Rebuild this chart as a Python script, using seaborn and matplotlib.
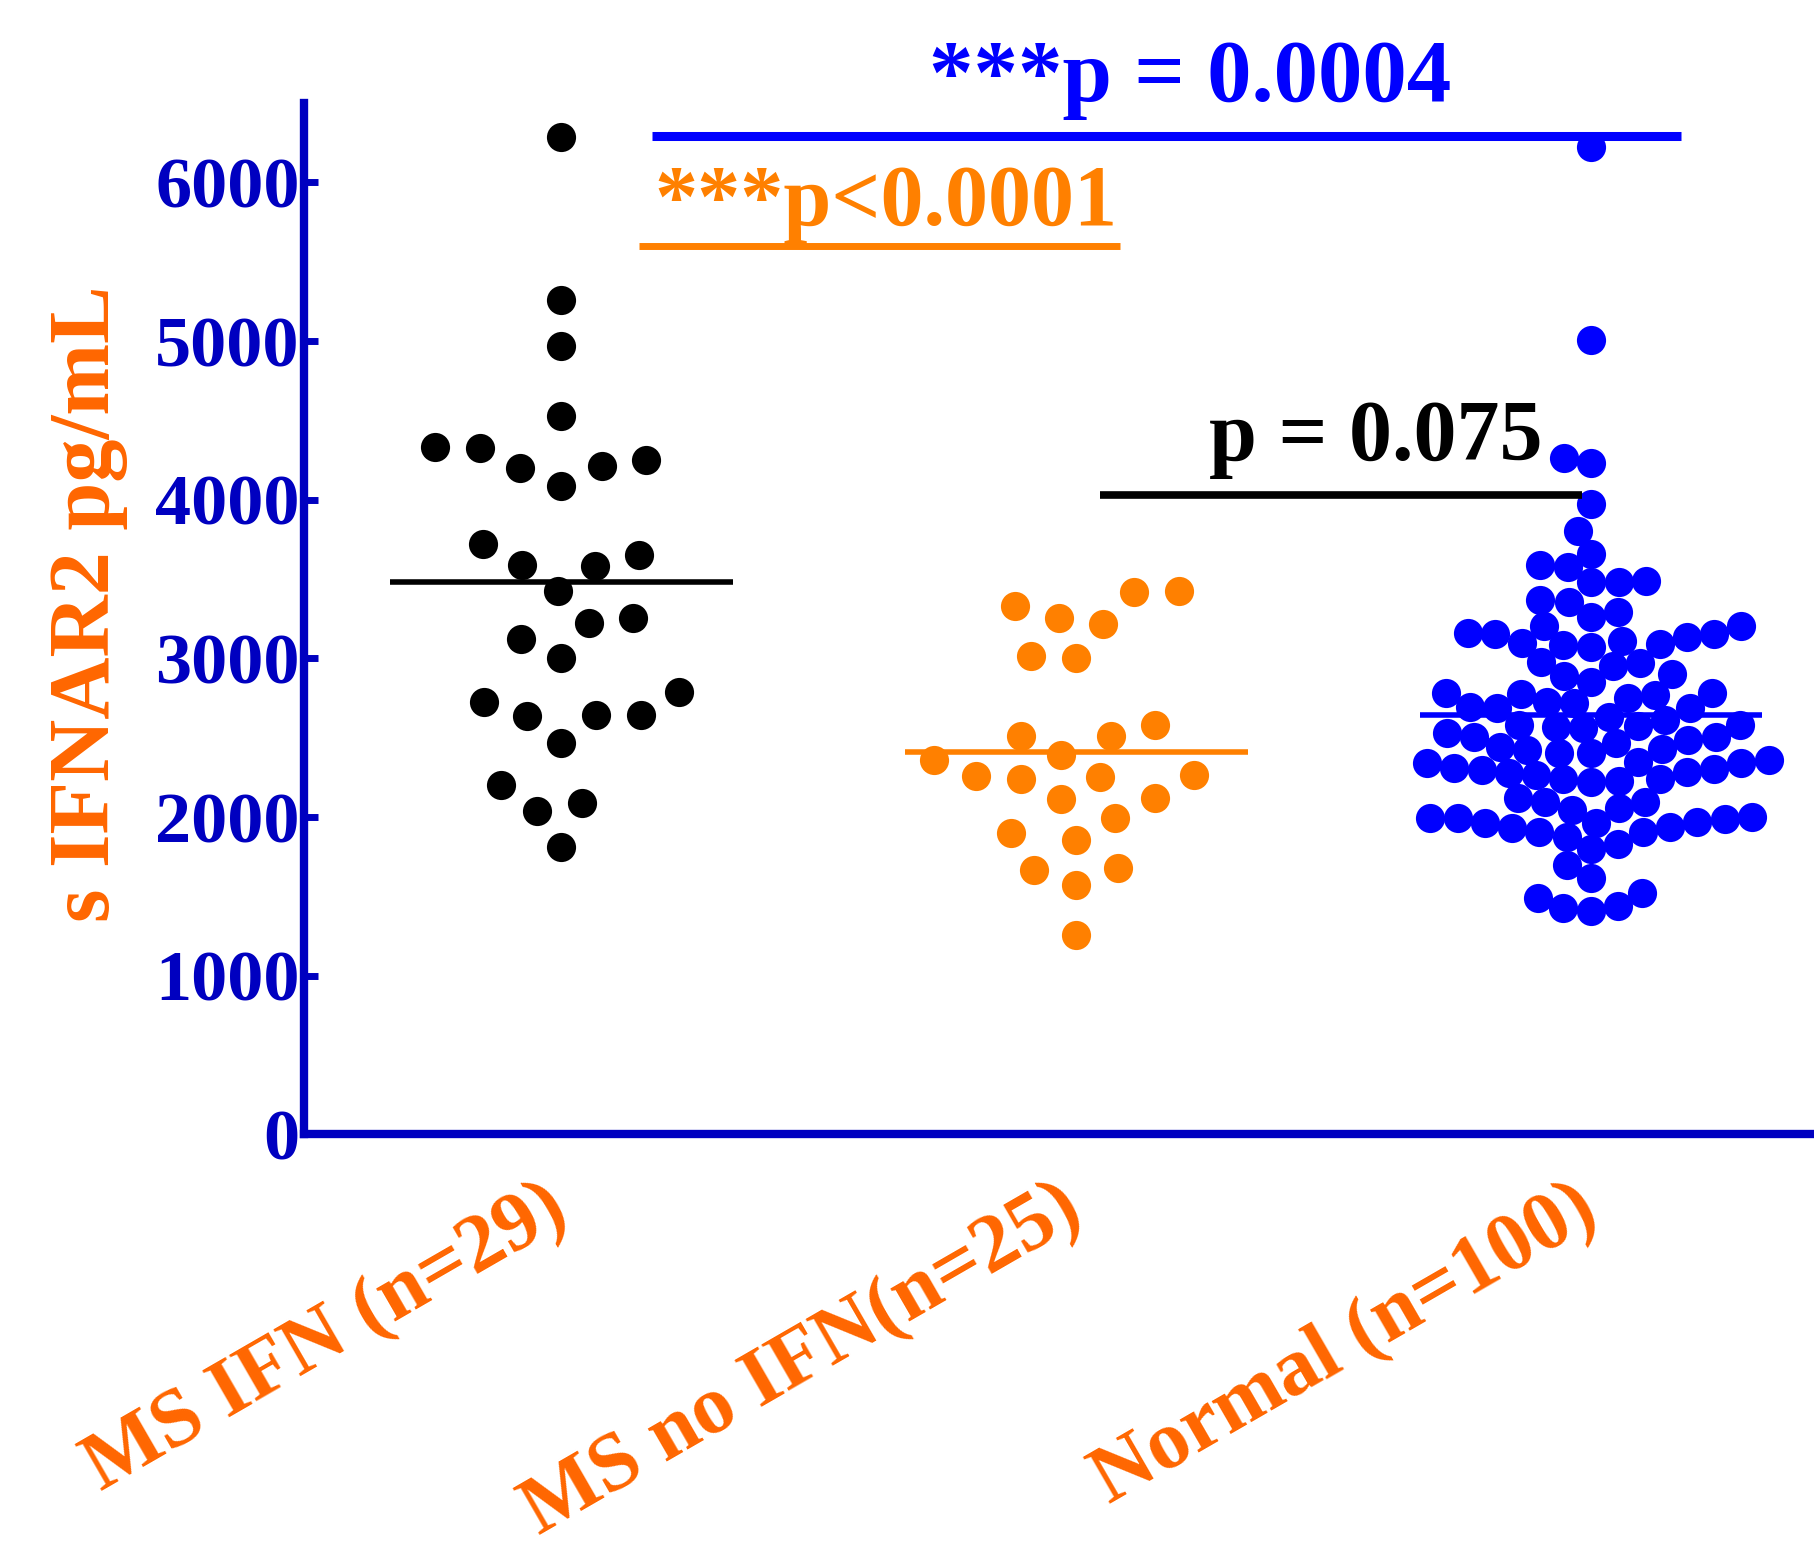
import numpy as np
import pandas as pd
import seaborn as sns
import matplotlib.pyplot as plt
from matplotlib.collections import PathCollection

sns.set_style("ticks")
plt.rcParams['font.family'] = ['Liberation Serif', 'DejaVu Serif']
plt.rcParams['font.weight'] = 'bold'

# values (pg/mL)
groups = ["MS IFN (n=29)", "MS no IFN(n=25)", "Normal (n=100)"]
ms_ifn = [6285, 5257, 4967, 4529, 4334, 4252, 4198, 4088, 4211, 4327,
          3719, 3586, 3422, 3583, 3650, 3252, 3123, 3003, 3220, 2786,
          2644, 2464, 2637, 2641, 2723, 2086, 2202, 2038, 1808]
ms_no_ifn = [3426, 3257, 3331, 3417, 3218, 3016, 3001, 2583, 2513, 2513,
             2394, 2358, 2263, 2251, 2114, 2238, 2257, 2120, 1996, 1858,
             1900, 1666, 1679, 1572, 1259]
normal = [6221, 5008, 4266, 4231, 3972, 3804,
          3657, 3573, 3484, 3358, 3369, 3484, 3488, 3590, 3295, 3260,
          3134, 3205, 3100, 3155, 3085, 3159, 3091, 3205, 3110, 3153,
          3071, 2980, 2974, 2902, 2850, 2892, 2953, 2781, 2770, 2784,
          2718, 2696, 2728, 2753, 2776, 2686, 2633, 2686,
          2574, 2469, 2528, 2427, 2507, 2402, 2581, 2562, 2507, 2423,
          2360, 2570, 2297, 2444, 2581, 2486, 2238, 2301, 2228, 2286,
          2339, 2276, 2349, 2402, 2339, 2265, 2223, 2308, 2238, 1992,
          1929, 1971, 1908, 2055, 2118, 1961, 1830, 2003, 2097, 2045,
          1961, 1797, 2097, 1876, 1986, 1908, 1992, 1936, 1698, 1523,
          1439, 1408, 1425, 1492, 1618, 2611]
yticks = [0, 1000, 2000, 3000, 4000, 5000, 6000]

point_colors = ["#000000", "#FF8000", "#0000FF"]
axis_blue = "#0000C0"
label_orange = "#FF6600"
dot_size = 21                 # drawn marker size (pt)
spread_size = [31, 31, 19]    # marker size used only to lay out the swarm

all_vals = [ms_ifn, ms_no_ifn, normal]
df = pd.DataFrame({
    "group": np.repeat(groups, [len(v) for v in all_vals]),
    "value": np.concatenate(all_vals),
})

fig = plt.figure(figsize=(18.15, 15.54), dpi=100)
ax = fig.add_axes([0.1675, 0.2701, 0.8325, 0.6635])

# group means
for i, vals in enumerate(all_vals):
    m = np.mean(vals)
    ax.plot([i - 0.333, i + 0.333], [m, m], color=point_colors[i], lw=4,
            zorder=1, solid_capstyle="butt")

for i, g in enumerate(groups):
    sns.swarmplot(data=df[df["group"] == g], x="group", y="value", order=groups,
                  color=point_colors[i], size=spread_size[i], linewidth=0,
                  ax=ax, zorder=2)

ax.set_xlim(-0.5, 2.435)
ax.set_ylim(0, 6500)

# lay out the swarms, then freeze them and draw the dots at their real size
fig.canvas.draw()
for coll in ax.collections:
    if isinstance(coll, PathCollection):
        if "draw" in coll.__dict__:
            del coll.draw
        coll.set_sizes([dot_size ** 2])

ax.set_yticks(yticks)
ax.set_yticklabels([str(t) for t in yticks])

for side in ["top", "right"]:
    ax.spines[side].set_visible(False)
for side in ["left", "bottom"]:
    ax.spines[side].set_color(axis_blue)
    ax.spines[side].set_linewidth(6)

ax.tick_params(axis="y", direction="in", length=10, width=5, color=axis_blue,
               labelcolor=axis_blue, labelsize=52, pad=3)
ax.tick_params(axis="x", length=0, pad=50)
for lab in ax.get_yticklabels():
    lab.set_fontweight("bold")
ax.set_xticks([0, 1, 2])
ax.set_xticklabels(groups, rotation=30, ha="right", va="center",
                   rotation_mode="anchor", color=label_orange,
                   fontsize=60, fontweight="bold")
ax.set_xlabel("")

ax.set_ylabel("s IFNAR2 pg/mL", color=label_orange, fontsize=62, fontweight="bold")
ax.yaxis.set_label_coords(-0.1165, 0.515)

# significance bars
ax.plot([0.176, 2.174], [6294, 6294], color="#0000FF", lw=6.5, clip_on=False,
        solid_capstyle="butt")
ax.text(1.222, 6511, "***p = 0.0004", color="#0000FF", fontsize=64,
        fontweight="bold", ha="center", va="baseline", clip_on=False)

ax.plot([0.151, 1.085], [5598, 5598], color="#FF8000", lw=5, clip_on=False,
        solid_capstyle="butt")
ax.text(0.630, 5730, "***p<0.0001", color="#FF8000", fontsize=62,
        fontweight="bold", ha="center", va="baseline")

ax.plot([1.047, 1.982], [4028, 4028], color="black", lw=5.5, clip_on=False,
        solid_capstyle="butt")
ax.text(1.582, 4252, "p = 0.075", color="black", fontsize=62,
        fontweight="bold", ha="center", va="baseline")

fig.savefig("out.png", dpi=100)
